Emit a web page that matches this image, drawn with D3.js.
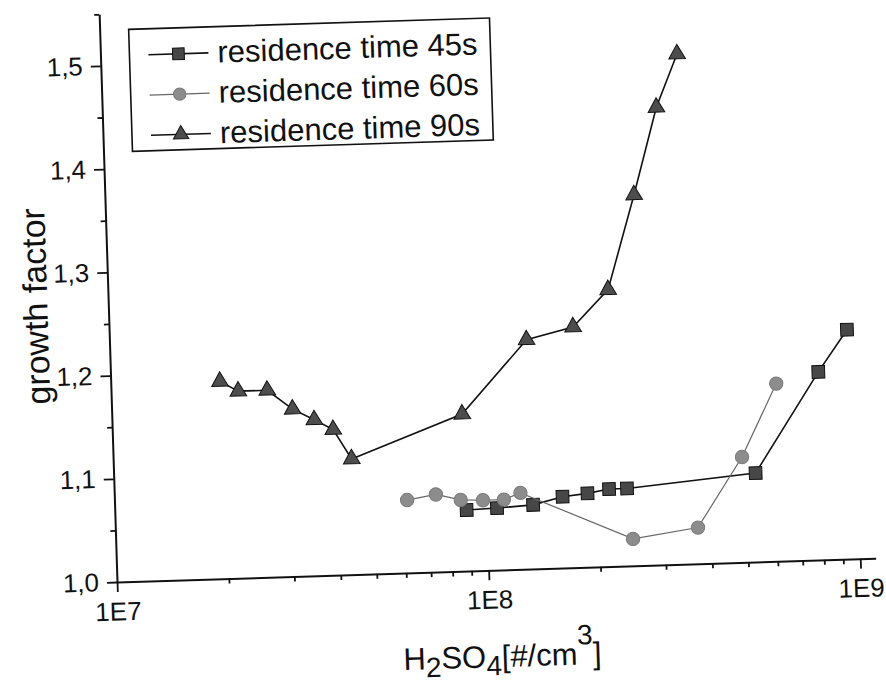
<!DOCTYPE html>
<html>
<head>
<meta charset="utf-8">
<script src="https://cdn.jsdelivr.net/npm/d3@7/dist/d3.min.js"></script>
<style>
  body { margin: 0; background: #fff; }
  text { font-family: "Liberation Sans", Arial, sans-serif; fill: #111; }
</style>
</head>
<body>
<div id="chart"></div>
<script>
// H2SO4 concentration [#/cm3] and growth factor
let conc45 = [8.83e7, 1.066e8, 1.334e8, 1.603e8, 1.872e8, 2.141e8, 2.393e8, 5.32e8, 8.0e8, 9.63e8],
    gf45   = [1.059, 1.060, 1.062, 1.069, 1.0715, 1.075, 1.075, 1.086, 1.182, 1.222];

let conc60 = [6.12e7, 7.32e7, 8.53e7, 9.79e7, 1.114e8, 1.236e8, 2.46e8, 3.685e8, 4.906e8, 6.15e8],
    gf60   = [1.0705, 1.075, 1.069, 1.068, 1.068, 1.074, 1.026, 1.035, 1.102, 1.172];

let conc90 = [1.966e7, 2.198e7, 2.63e7, 3.066e7, 3.499e7, 3.926e7, 4.377e7, 8.75e7, 1.322e8, 1.768e8, 2.212e8, 2.646e8, 3.09e8, 3.548e8],
    gf90   = [1.191, 1.181, 1.181, 1.162, 1.151, 1.141, 1.112, 1.152, 1.222, 1.233, 1.268, 1.359, 1.443, 1.494];

let legendLabels = ["residence time 45s", "residence time 60s", "residence time 90s"];
let xMajor = [1e7, 1e8, 1e9],
    yMajor = [1.0, 1.1, 1.2, 1.3, 1.4, 1.5],
    yMinor = [1.05, 1.15, 1.25, 1.35, 1.45, 1.55];

let width = 886, height = 686,
    plotW = 759, plotH = 568;

let svg = d3.select("#chart").append("svg")
    .attr("width", width)
    .attr("height", height);

// the scanned figure is tilted a little, so the whole plot is turned with it
let vis = svg.append("g")
    .attr("transform", "translate(117,582) rotate(-1.8)");

let x = d3.scaleLog().domain([1e7, 1.1e9]).range([0, plotW]);
let y = d3.scaleLinear().domain([1.0, 1.55]).range([0, -plotH]);

let xMinor = [];
[1e7, 1e8].forEach(function (d) {
    for (let k = 2; k <= 9; k++) xMinor.push(d * k);
});

// axes
vis.append("g")
    .call(d3.axisBottom(x).tickValues(xMajor).tickSize(10).tickSizeOuter(0).tickPadding(10)
        .tickFormat(function (d) { return "1E" + Math.round(Math.log10(d)); }));
vis.append("g")
    .call(d3.axisBottom(x).tickValues(xMinor).tickSize(5).tickFormat(""))
    .select(".domain").remove();

vis.append("g")
    .call(d3.axisLeft(y).tickValues(yMajor).tickSize(10).tickSizeOuter(0).tickPadding(8)
        .tickFormat(function (d) { return d3.format(".1f")(d).replace(".", ","); }));
vis.append("g")
    .call(d3.axisLeft(y).tickValues(yMinor).tickSize(5).tickFormat(""))
    .select(".domain").remove();

vis.selectAll(".domain").attr("stroke", "#111").attr("stroke-width", 2);
vis.selectAll(".tick line").attr("stroke", "#111").attr("stroke-width", 1.8);
vis.selectAll(".tick text").style("font-size", "26px").attr("fill", "#111");

// axis titles
vis.append("text")
    .attr("transform", "translate(-61,-278) rotate(-90)")
    .style("text-anchor", "middle")
    .style("font-size", "34px")
    .text("growth factor");

let xt = vis.append("text")
    .attr("x", 383).attr("y", 97)
    .style("text-anchor", "middle")
    .style("font-size", "31px");
xt.append("tspan").text("H");
xt.append("tspan").attr("dy", 8).style("font-size", "28px").text("2");
xt.append("tspan").attr("dy", -8).text("SO");
xt.append("tspan").attr("dy", 8).style("font-size", "28px").text("4");
xt.append("tspan").attr("dy", -8).text("[#/cm");
xt.append("tspan").attr("dy", -20).style("font-size", "28px").text("3");
xt.append("tspan").attr("dy", 20).text("]");

// series
let series = [
    { name: legendLabels[0], xs: conc45, ys: gf45, shape: d3.symbolSquare, size: 160, fill: "#474747", stroke: "#111", line: "#111", lw: 1.6 },
    { name: legendLabels[1], xs: conc60, ys: gf60, shape: d3.symbolCircle, size: 140, fill: "#8c8c8c", stroke: "#7a7a7a", line: "#666", lw: 1.2 },
    { name: legendLabels[2], xs: conc90, ys: gf90, shape: d3.symbolTriangle, size: 120, fill: "#4d4d4d", stroke: "#111", line: "#111", lw: 1.6 }
];

let line = d3.line()
    .x(function (d) { return x(d[0]); })
    .y(function (d) { return y(d[1]); });

series.forEach(function (s) {
    let pts = s.xs.map(function (d, i) { return [d, s.ys[i]]; });
    vis.append("path")
        .datum(pts)
        .attr("d", line)
        .attr("fill", "none")
        .attr("stroke", s.line)
        .attr("stroke-width", s.lw);
    vis.selectAll(null)
        .data(pts)
        .enter().append("path")
        .attr("d", d3.symbol().type(s.shape).size(s.size))
        .attr("transform", function (d) { return "translate(" + x(d[0]) + "," + y(d[1]) + ")"; })
        .attr("fill", s.fill)
        .attr("stroke", s.stroke)
        .attr("stroke-width", 1);
});

// legend
let legend = vis.append("g").attr("transform", "translate(29,-552)");
legend.append("rect")
    .attr("width", 361).attr("height", 122)
    .attr("fill", "#fff")
    .attr("stroke", "#111")
    .attr("stroke-width", 1.6);

series.forEach(function (s, i) {
    let row = legend.append("g").attr("transform", "translate(0," + (26 + i * 40.3) + ")");
    row.append("line")
        .attr("x1", 19).attr("x2", 79)
        .attr("stroke", s.line).attr("stroke-width", s.lw);
    row.append("path")
        .attr("d", d3.symbol().type(s.shape).size(s.size * 0.85))
        .attr("transform", "translate(49,0)")
        .attr("fill", s.fill)
        .attr("stroke", s.stroke)
        .attr("stroke-width", 1);
    row.append("text")
        .attr("x", 88).attr("y", 10)
        .style("font-size", "31px")
        .text(s.name);
});
</script>
</body>
</html>
